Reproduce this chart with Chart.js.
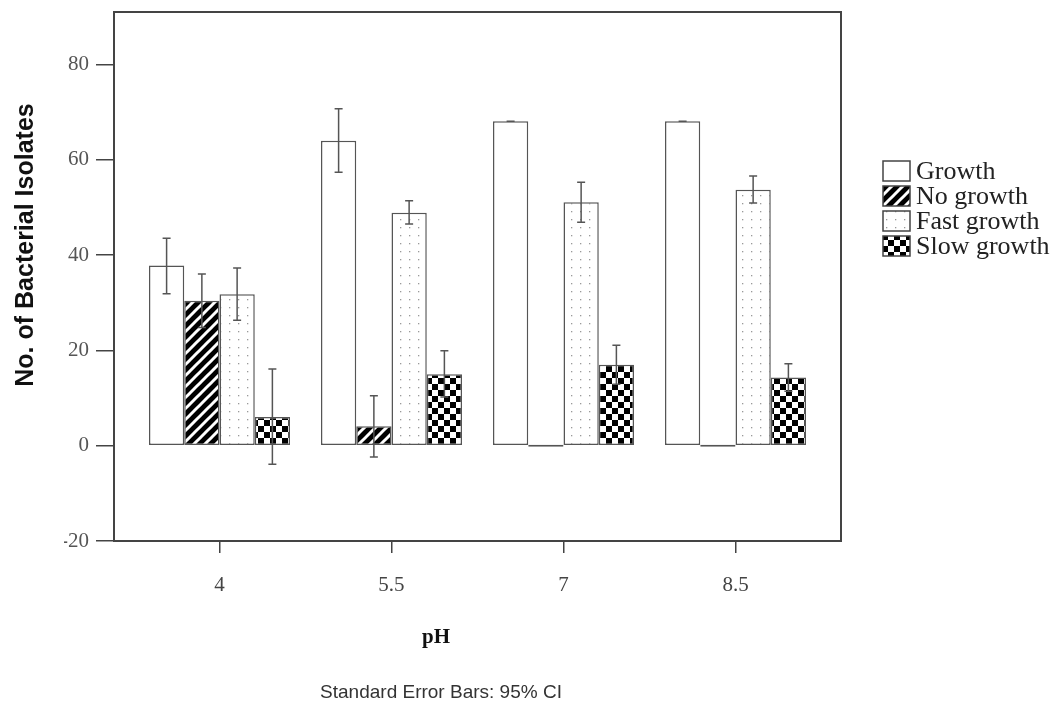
<!DOCTYPE html>
<html>
<head>
<meta charset="utf-8">
<script src="https://cdn.jsdelivr.net/npm/chart.js@4.4.1/dist/chart.umd.min.js"></script>
<style>
  body { margin: 0; background: #fff; }
  #wrap { width: 1060px; height: 708px; }
</style>
</head>
<body>
<div id="wrap"><canvas id="phChart"></canvas></div>
<script>
// pH levels and series
var phLevels = ["4", "5.5", "7", "8.5"];
var seriesNames = ["Growth", "No growth", "Fast growth", "Slow growth"];
var yTicks = [-20, 0, 20, 40, 60, 80];

// mean no. of isolates
var growth     = [37.8, 64.0, 68.1, 68.1];
var noGrowth   = [30.4, 4.1, 0, 0];
var fastGrowth = [31.8, 48.9, 51.1, 53.7];
var slowGrowth = [6.0, 15.0, 17.0, 14.3];

// 95% CI lower / upper ends
var growthLow      = [31.9, 57.4, 68.1, 68.1];
var growthHigh     = [43.5, 70.7, 68.1, 68.1];
var noGrowthLow    = [24.8, -2.4, null, null];
var noGrowthHigh   = [36.0, 10.5, null, null];
var fastGrowthLow  = [26.3, 46.5, 46.9, 50.9];
var fastGrowthHigh = [37.3, 51.4, 55.3, 56.6];
var slowGrowthLow  = [-3.9, 10.2, 12.9, 11.4];
var slowGrowthHigh = [16.1, 19.9, 21.1, 17.2];

var ctx = document.getElementById("phChart").getContext("2d");

function makePattern(w, h, paint) {
  var c = document.createElement("canvas");
  c.width = w; c.height = h;
  paint(c.getContext("2d"), w, h);
  return ctx.createPattern(c, "repeat");
}

var stripes = makePattern(11, 11, function (g, w, h) {
  g.fillStyle = "#000"; g.fillRect(0, 0, w, h);
  g.strokeStyle = "#fff"; g.lineWidth = 3;
  [[0, h, w, 0], [-w / 2, h / 2, w / 2, -h / 2], [w / 2, h * 1.5, w * 1.5, h / 2]].forEach(function (l) {
    g.beginPath(); g.moveTo(l[0], l[1]); g.lineTo(l[2], l[3]); g.stroke();
  });
});
var dots = makePattern(9, 8, function (g, w, h) {
  g.fillStyle = "#fff"; g.fillRect(0, 0, w, h);
  g.fillStyle = "#999"; g.fillRect(4, 3, 1.3, 1.3);
});
var checks = makePattern(12, 12, function (g, w, h) {
  g.fillStyle = "#fff"; g.fillRect(0, 0, w, h);
  g.fillStyle = "#000"; g.fillRect(0, 0, 6, 6); g.fillRect(6, 6, 6, 6);
});

function pts(vals) {
  return vals.map(function (v, i) { return { x: parseFloat(phLevels[i]), y: v }; });
}

var errorBars = [[growthLow, growthHigh], [noGrowthLow, noGrowthHigh],
                 [fastGrowthLow, fastGrowthHigh], [slowGrowthLow, slowGrowthHigh]];

var errorPlugin = {
  id: "errorBars",
  afterDatasetsDraw: function (chart) {
    var y = chart.scales.y, c = chart.ctx;
    c.save();
    c.strokeStyle = "#555"; c.lineWidth = 1.5;
    chart.data.datasets.forEach(function (ds, di) {
      chart.getDatasetMeta(di).data.forEach(function (bar, i) {
        var lo = errorBars[di][0][i], hi = errorBars[di][1][i];
        if (lo == null) return;
        var y1 = y.getPixelForValue(lo), y2 = y.getPixelForValue(hi);
        c.beginPath();
        c.moveTo(bar.x, y1); c.lineTo(bar.x, y2);
        c.moveTo(bar.x - 4, y1); c.lineTo(bar.x + 4, y1);
        c.moveTo(bar.x - 4, y2); c.lineTo(bar.x + 4, y2);
        c.stroke();
      });
    });
    c.restore();
  }
};

var framePlugin = {
  id: "frame",
  afterDraw: function (chart) {
    var a = chart.chartArea, c = chart.ctx;
    c.save();
    c.strokeStyle = "#444"; c.lineWidth = 2;
    c.strokeRect(a.left, a.top, a.right - a.left, a.bottom - a.top);

    // legend
    chart.data.datasets.forEach(function (ds, i) {
      var top = 161 + i * 25;
      c.fillStyle = ds.backgroundColor;
      c.fillRect(883, top, 27, 20);
      c.strokeStyle = "#444"; c.lineWidth = 1.5;
      c.strokeRect(883, top, 27, 20);
      c.fillStyle = "#222";
      c.font = "26px 'Liberation Serif'";
      c.textAlign = "left"; c.textBaseline = "middle";
      c.fillText(ds.label, 916, top + 11);
    });

    // axis titles and note
    c.fillStyle = "#111";
    c.textAlign = "center"; c.textBaseline = "middle";
    c.font = "bold 21px 'Liberation Serif'";
    c.fillText("pH", 436, 638);
    c.font = "19px 'Liberation Sans'";
    c.fillStyle = "#333";
    c.fillText("Standard Error Bars: 95% CI", 441, 693);
    c.translate(26, 245);
    c.rotate(-Math.PI / 2);
    c.fillStyle = "#111";
    c.font = "bold 25px 'Liberation Sans'";
    c.fillText("No. of Bacterial Isolates", 0, 0);
    c.restore();
  }
};

var fills = ["#fff", stripes, dots, checks];
var series = [growth, noGrowth, fastGrowth, slowGrowth];

new Chart(ctx, {
  type: "bar",
  data: {
    datasets: series.map(function (vals, i) {
      return {
        label: seriesNames[i],
        data: pts(vals),
        backgroundColor: fills[i],
        borderColor: "#555",
        borderWidth: 1.5,
        borderSkipped: false,
        minBarLength: i == 1 ? 2 : 0,
        categoryPercentage: 0.82,
        barPercentage: 1.0
      };
    })
  },
  options: {
    responsive: true,
    maintainAspectRatio: false,
    animation: false,
    layout: { padding: { left: 64, top: 12, right: 219, bottom: 107 } },
    plugins: { legend: { display: false }, tooltip: { enabled: false } },
    scales: {
      x: {
        type: "linear",
        offset: false,
        min: 3.08,
        max: 9.42,
        afterBuildTicks: function (s) { s.ticks = phLevels.map(function (p) { return { value: parseFloat(p) }; }); },
        afterFit: function (s) { s.height = 60; s.paddingLeft = 0; s.paddingRight = 0; },
        grid: { offset: false, drawOnChartArea: false, tickLength: 12, color: "#444", lineWidth: 1.5 },
        border: { display: false },
        ticks: {
          padding: 20,
          color: "#444",
          font: { family: "'Liberation Serif'", size: 21 },
          callback: function (v) { return phLevels[phLevels.indexOf(String(v))] || String(v); }
        }
      },
      y: {
        min: -20,
        max: 91,
        afterBuildTicks: function (s) { s.ticks = yTicks.map(function (v) { return { value: v }; }); },
        afterFit: function (s) { s.width = 50; s.paddingTop = 0; s.paddingBottom = 0; },
        grid: { drawOnChartArea: false, tickLength: 18, color: "#444", lineWidth: 1.5 },
        border: { display: false },
        ticks: {
          padding: 7,
          color: "#555",
          font: { family: "'Liberation Serif'", size: 21 }
        }
      }
    }
  },
  plugins: [errorPlugin, framePlugin]
});
</script>
</body>
</html>
